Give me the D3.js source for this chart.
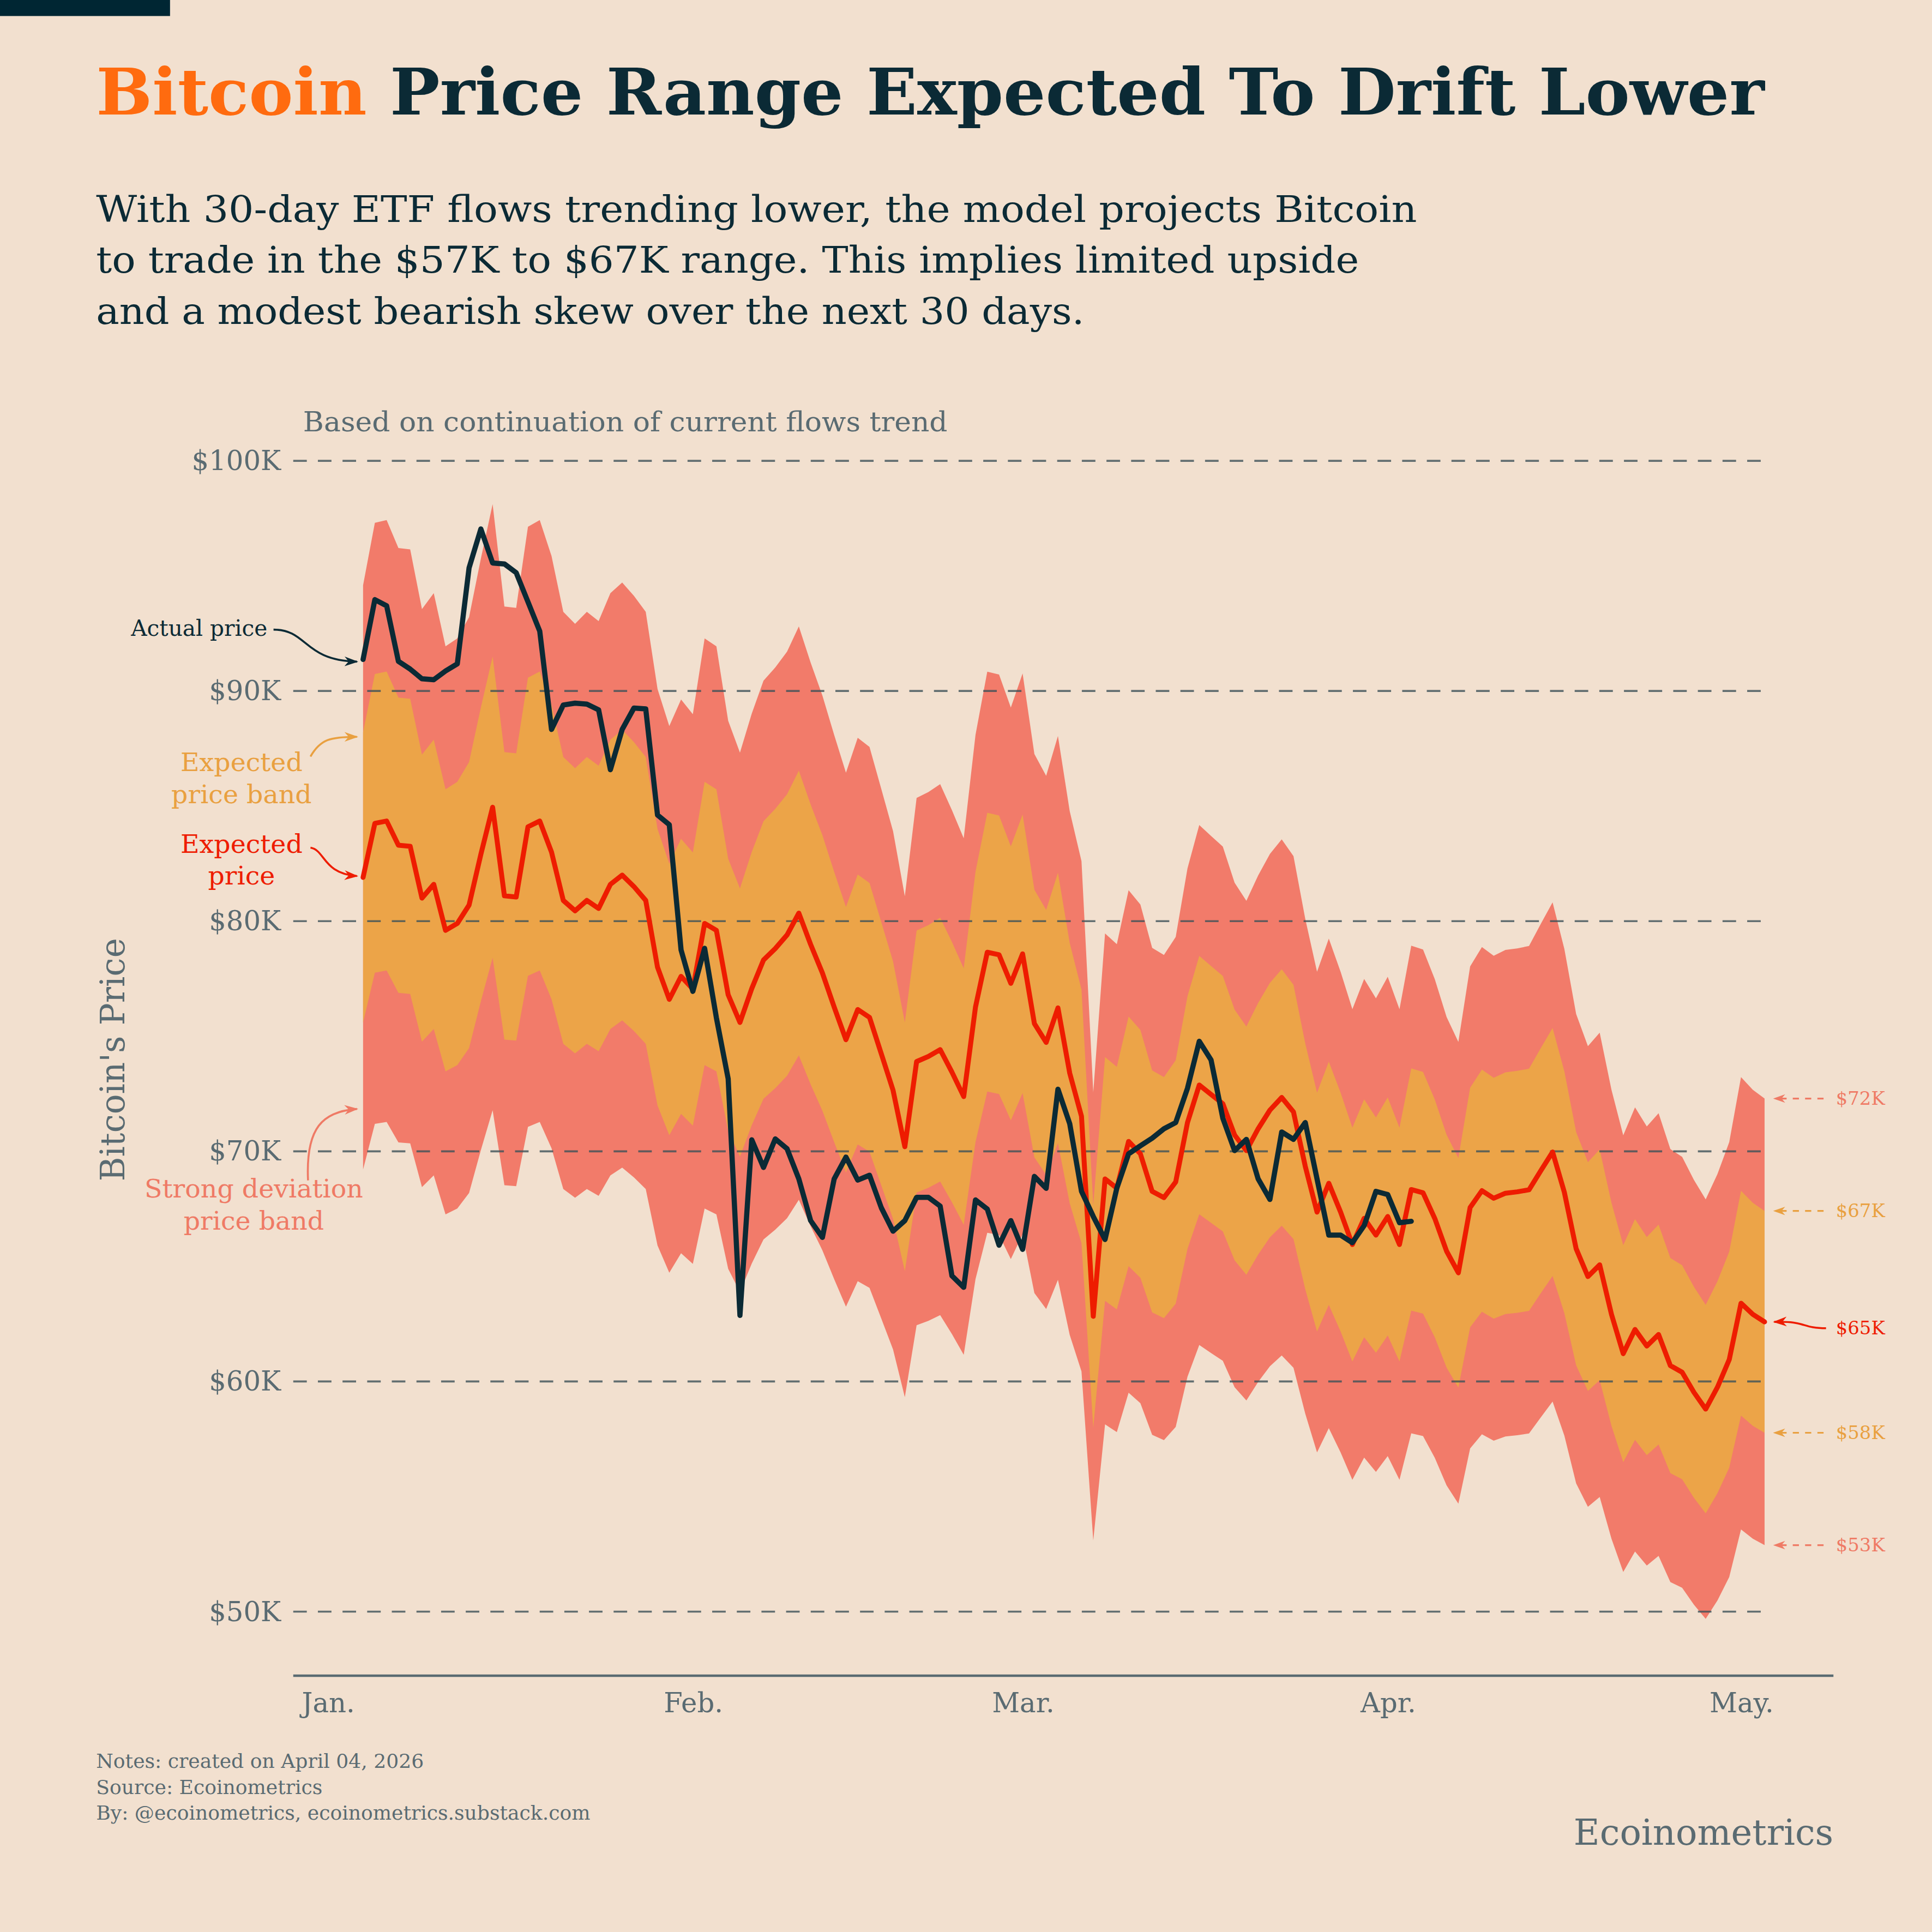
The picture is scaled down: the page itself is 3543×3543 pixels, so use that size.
<!DOCTYPE html>
<html><head><meta charset="utf-8">
<script src="https://cdn.jsdelivr.net/npm/d3@7"></script>
<style>html,body{margin:0;padding:0;background:#F2E0CF}</style>
</head><body>
<svg id="c" width="3543" height="3543" viewBox="0 0 1568 1568"></svg>
<script>
// ---- data ----
const startDate = "2026-01-04";
const expectedPrice = [81.9,84.25,84.35,83.3,83.25,81.0,81.6,79.6,79.9,80.7,82.9,84.95,81.1,81.05,84.1,84.35,83.0,80.9,80.45,80.9,80.55,81.6,82.0,81.5,80.9,78.0,76.6,77.6,77.05,79.9,79.6,76.8,75.6,77.07,78.31,78.81,79.4,80.35,78.99,77.75,76.27,74.85,76.16,75.82,74.24,72.65,70.2,73.9,74.12,74.42,73.44,72.38,76.27,78.65,78.54,77.3,78.58,75.55,74.73,76.23,73.4,71.52,62.83,68.8,68.4,70.43,69.89,68.26,67.99,68.67,71.25,72.88,72.47,72.07,70.71,70.03,70.98,71.79,72.34,71.71,69.35,67.36,68.61,67.36,65.95,67.09,66.36,67.17,65.95,68.34,68.2,67.08,65.66,64.72,67.56,68.29,67.96,68.18,68.24,68.33,69.16,69.97,68.22,65.77,64.56,65.07,62.92,61.21,62.26,61.54,62.04,60.69,60.4,59.53,58.8,59.75,60.95,63.4,62.92,62.59];
const actualPrice = [91.37,93.97,93.7,91.29,90.95,90.53,90.49,90.87,91.18,95.35,97.04,95.56,95.52,95.14,93.87,92.6,88.33,89.39,89.47,89.43,89.18,86.58,88.33,89.26,89.22,84.61,84.19,78.75,76.95,78.82,75.8,73.15,62.87,70.5,69.3,70.54,70.11,68.8,66.99,66.26,68.8,69.75,68.75,68.96,67.55,66.53,66.99,68.0,68.0,67.62,64.59,64.09,67.89,67.49,65.92,66.99,65.74,68.91,68.39,72.7,71.2,68.26,67.17,66.17,68.4,69.89,70.24,70.57,70.98,71.25,72.74,74.78,73.97,71.44,70.03,70.52,68.8,67.91,70.84,70.52,71.25,68.8,66.36,66.36,66.03,66.77,68.26,68.12,66.9,66.96];
const bandInner = 0.077;   // expected price band half-width (share of expected)
const bandOuter = 0.155;   // strong deviation band half-width
const yTicks = [50,60,70,80,90,100];
const yTickLabels = ["$50K","$60K","$70K","$80K","$90K","$100K"];
const monthTicks = ["2026-01-01","2026-02-01","2026-03-01","2026-04-01","2026-05-01"];
const monthLabels = ["Jan.","Feb.","Mar.","Apr.","May."];
const endLabels = ["$72K","$67K","$65K","$58K","$53K"];

// ---- setup ----
const svg = d3.select("#c");
const C = {bg:"#F2E0CF", dark:"#0B2A35", gray:"#5A6B72", red:"#EE1C00", orange:"#ECA448", salmon:"#F27B6A", orangeText:"#E9A040", salmonText:"#EF7A65"};
const F = "'DejaVu Serif', Georgia, serif";
svg.append("rect").attr("width",1568).attr("height",1568).attr("fill",C.bg);
svg.append("rect").attr("width",138).attr("height",13).attr("fill","#002633");

const parse = d3.timeParse("%Y-%m-%d");
const d0 = parse(startDate);
const dates = expectedPrice.map((_,i)=>d3.timeDay.offset(d0,i));
const x = d3.scaleTime().domain([parse("2026-01-01"),parse("2026-05-01")]).range([266,1413]);
const y = d3.scaleLinear().domain([50,100]).range([1308,374]);

// title
const t = svg.append("text").attr("x",78).attr("y",93).attr("font-family",F).attr("font-weight","bold").attr("font-size",52)
  .attr("textLength",1354).attr("lengthAdjust","spacingAndGlyphs").attr("fill",C.dark);
t.append("tspan").attr("fill","#FF6B0F").text("Bitcoin");
t.append("tspan").text(" Price Range Expected To Drift Lower");
const sub = [["With 30-day ETF flows trending lower, the model projects Bitcoin",1072],
 ["to trade in the $57K to $67K range. This implies limited upside",1025],
 ["and a modest bearish skew over the next 30 days.",802]];
sub.forEach((s,i)=>svg.append("text").attr("x",78).attr("y",180+i*41.5).attr("font-family",F).attr("font-size",30)
  .attr("fill",C.dark).attr("textLength",s[1]).attr("lengthAdjust","spacingAndGlyphs").text(s[0]));
svg.append("text").attr("x",246).attr("y",350).attr("font-family",F).attr("font-size",22).attr("fill",C.gray)
  .attr("textLength",523).attr("lengthAdjust","spacingAndGlyphs").text("Based on continuation of current flows trend");

// bands
const area = (k1,k2)=>d3.area().x((d,i)=>x(dates[i])).y0(d=>y(d*(1+k1))).y1(d=>y(d*(1+k2)));
svg.append("path").datum(expectedPrice).attr("d",area(-bandOuter,bandOuter)).attr("fill",C.salmon);
svg.append("path").datum(expectedPrice).attr("d",area(-bandInner,bandInner)).attr("fill",C.orange);

// grid
const yAxis = d3.axisLeft(y).tickValues(yTicks).tickFormat((d,i)=>yTickLabels[i]).tickSize(0).tickPadding(10);
const ga = svg.append("g").attr("transform","translate(238,0)").call(yAxis);
ga.select(".domain").remove();
ga.selectAll("text").attr("font-family",F).attr("font-size",22).attr("fill",C.gray);
svg.append("g").selectAll("line").data(yTicks).join("line").attr("x1",238).attr("x2",1435)
  .attr("y1",d=>y(d)).attr("y2",d=>y(d)).attr("stroke","#3F5259").attr("stroke-opacity",0.8).attr("stroke-width",1.6).attr("stroke-dasharray","11 9");

// lines
const line = d3.line().x((d,i)=>x(dates[i])).y(d=>y(d));
svg.append("path").datum(expectedPrice).attr("d",line).attr("fill","none").attr("stroke",C.red).attr("stroke-width",4).attr("stroke-linejoin","round").attr("stroke-linecap","round");
svg.append("path").datum(actualPrice).attr("d",line).attr("fill","none").attr("stroke",C.dark).attr("stroke-width",4.2).attr("stroke-linejoin","round").attr("stroke-linecap","round");

// x axis
const xAxis = d3.axisBottom(x).tickValues(monthTicks.map(parse)).tickFormat((d,i)=>monthLabels[i]).tickSize(0).tickPadding(14);
const gx = svg.append("g").attr("transform","translate(0,1360)").call(xAxis);
gx.select(".domain").remove();
gx.selectAll("text").attr("font-family",F).attr("font-size",22).attr("fill",C.gray);
svg.append("line").attr("x1",238).attr("x2",1488).attr("y1",1360).attr("y2",1360).attr("stroke",C.gray).attr("stroke-width",2);

svg.append("text").attr("transform","translate(101,860) rotate(-90)").attr("text-anchor","middle").attr("font-family",F)
  .attr("font-size",27).attr("fill",C.gray).text("Bitcoin's Price");

// annotation arrows
const defs = svg.append("defs");
function marker(id,col){defs.append("marker").attr("id",id).attr("viewBox","0 0 10 10").attr("refX",9).attr("refY",5)
  .attr("markerWidth",7).attr("markerHeight",7).attr("orient","auto").append("path").attr("d","M0,1.5 L10,5 L0,8.5 L3,5 Z").attr("fill",col);}
marker("mDark",C.dark);marker("mRed",C.red);marker("mOr",C.orangeText);marker("mSal",C.salmonText);
function ann(d,col,m){svg.append("path").attr("d",d).attr("fill","none").attr("stroke",col).attr("stroke-width",1.6).attr("marker-end","url(#"+m+")");}
const x0 = x(dates[0]);
ann(`M222,511 C250,511 246,536 ${x0-5},537`,C.dark,"mDark");
ann(`M252,614 C260,600 268,598 ${x0-5},598`,C.orangeText,"mOr");
ann(`M252,688 C264,690 262,709 ${x0-5},711`,C.red,"mRed");
ann(`M250,958 C248,915 262,902 ${x0-5},900`,C.salmonText,"mSal");
function lab(lines,xx,yy,col,size,anchor){lines.forEach((l,i)=>svg.append("text").attr("x",xx).attr("y",yy+i*26).attr("text-anchor",anchor)
  .attr("font-family",F).attr("font-size",size).attr("fill",col).text(l));}
lab(["Actual price"],217,516,C.dark,18,"end");
lab(["Expected","price band"],196,626,C.orangeText,21,"middle");
lab(["Expected","price"],196,692,C.red,21,"middle");
lab(["Strong deviation","price band"],206,972,C.salmonText,21,"middle");

// right end labels
const last = expectedPrice[expectedPrice.length-1];
const endVals = [last*(1+bandOuter), last*(1+bandInner), last, last*(1-bandInner), last*(1-bandOuter)];
const endCols = [C.salmonText,C.orangeText,C.red,C.orangeText,C.salmonText];
endVals.forEach((v,i)=>{
  const yy = y(v);
  if(i===2){ann(`M1482,1078 C1462,1078 1466,1072 ${1440},${yy}`,C.red,"mRed");}
  else{svg.append("line").attr("x1",1480).attr("x2",1440).attr("y1",yy).attr("y2",yy).attr("stroke",endCols[i]).attr("stroke-width",1.4)
    .attr("stroke-dasharray","5 5").attr("marker-end","url(#"+(i%4===0?"mSal":"mOr")+")");}
  svg.append("text").attr("x",1490).attr("y",(i===2?1078:yy)+5).attr("font-family",F).attr("font-size",15).attr("fill",endCols[i]).text(endLabels[i]);
});

// footer
["Notes: created on April 04, 2026","Source: Ecoinometrics","By: @ecoinometrics, ecoinometrics.substack.com"].forEach((s,i)=>
  svg.append("text").attr("x",78).attr("y",1435+i*21).attr("font-family",F).attr("font-size",16).attr("fill",C.gray).text(s));
svg.append("text").attr("x",1488).attr("y",1497).attr("text-anchor","end").attr("font-family",F).attr("font-size",29).attr("fill",C.gray).text("Ecoinometrics");
</script>
</body></html>
